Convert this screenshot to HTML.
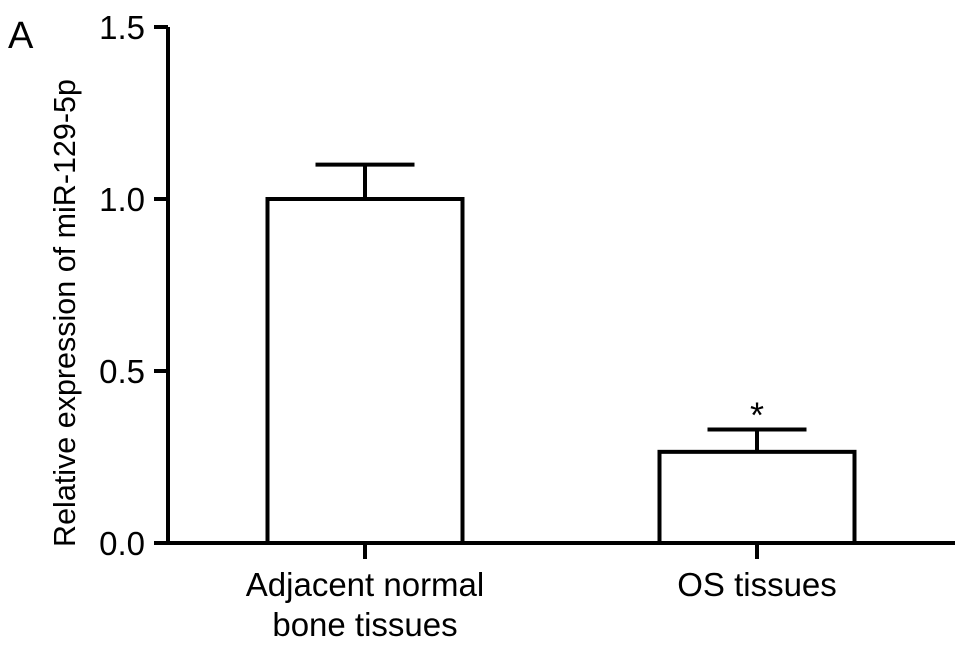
<!DOCTYPE html>
<html><head><meta charset="utf-8"><style>
html,body{margin:0;padding:0;background:#fff;}
svg{display:block;font-family:"Liberation Sans",Arial,sans-serif;}
</style></head><body>
<svg id="chart" width="969" height="649">
<text x="8" y="48" font-size="38">A</text>
<g id="axes"></g><g id="bars"></g>
<text transform="translate(75,313) rotate(-90)" text-anchor="middle" font-size="30.5">Relative expression of miR-129-5p</text>
</svg>
<script>
const categories = [["Adjacent normal","bone tissues"],["OS tissues"]];
const values = [1.0, 0.265];
const errors = [0.1, 0.065];
const sig = [false, true];
const yTicks = [0, 0.5, 1.0, 1.5];
const yTickLabels = ["0.0","0.5","1.0","1.5"];
const NS="http://www.w3.org/2000/svg";
const y0=543, pxPer=344, xL=168, xR=955;
const y=v=>y0-v*pxPer;
const centers=[365,757], bw=195, cw=99;
function mk(tag,attrs,parent){const e=document.createElementNS(NS,tag);for(const k in attrs)e.setAttribute(k,attrs[k]);parent.appendChild(e);return e;}
const ax=document.getElementById('axes'), bg=document.getElementById('bars');
const ya=mk('line',{x1:xL,y1:y(1.5),x2:xL,y2:y0,stroke:'#000','stroke-width':4},ax);


const xa=mk('line',{x1:xL-2,y1:y0,x2:xR,y2:y0,stroke:'#000','stroke-width':4},ax);


yTicks.forEach((t,i)=>{
 const l=mk('line',{x1:154,y1:y(t),x2:xL,y2:y(t),stroke:'#000','stroke-width':4},ax);
 
 
 const tx=mk('text',{x:145,y:y(t)+12,'text-anchor':'end','font-size':33},ax);
 tx.textContent=yTickLabels[i];
 
 
});
values.forEach((v,i)=>{
 const c=centers[i];
 const r=mk('rect',{x:c-bw/2,y:y(v),width:bw,height:y0-y(v),fill:'#fff',stroke:'#000','stroke-width':4},bg);
 
 
 const e=mk('path',{d:`M${c},${y(v)} V${y(v+errors[i])} M${c-cw/2},${y(v+errors[i])} H${c+cw/2}`,stroke:'#000','stroke-width':4,fill:'none'},bg);
 
 
 const tk=mk('line',{x1:c,y1:y0,x2:c,y2:y0+16,stroke:'#000','stroke-width':4},bg);
 
 
 categories[i].forEach((s,j)=>{
  const t=mk('text',{x:c,y:596+j*40,'text-anchor':'middle','font-size':33},bg);
  t.textContent=s;
  
  
 });
 if(sig[i]){
  const s=mk('text',{x:c,y:y(v+errors[i])-2,'text-anchor':'middle','font-size':36},bg);
  s.textContent='*';
  
  
 }
});
</script>
</body></html>
